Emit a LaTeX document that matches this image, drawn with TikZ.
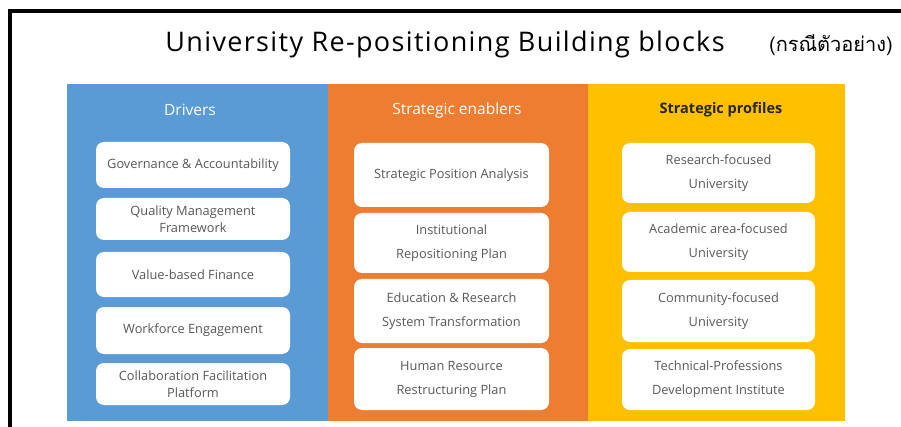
\documentclass[tikz,border=0pt]{standalone}
\usepackage{fontspec}
\setmainfont{Open Sans}
\newfontfamily\titlefont[LetterSpace=5]{Open Sans}
\newfontfamily\thaifont[Script=Thai]{Loma}
\definecolor{drvblue}{HTML}{5B9BD5}
\definecolor{enborange}{HTML}{ED7D31}
\definecolor{proyellow}{HTML}{FFC000}
\definecolor{cardtext}{HTML}{595959}
\begin{document}
\begin{tikzpicture}[x=1pt,y=-1pt,
  card/.style={fill=white,rounded corners=8pt,inner sep=0pt,align=center,
    text=cardtext,font=\fontsize{12.8}{17}\selectfont},
  tallcard/.style={card,font=\fontsize{12.8}{24}\selectfont},
  head/.style={font=\fontsize{15.5}{18}\selectfont}]
\useasboundingbox (0,0) rectangle (901,427);
\fill[white] (0,0) rectangle (901,427);
\draw[line width=4pt] (10,427) -- (10,11) -- (901,11);
% title
\node[font=\titlefont\fontsize{27}{32}\selectfont] (title) at (445,44) {University Re-positioning Building blocks};
\node[font=\thaifont\fontsize{20}{24}\selectfont] (thai) at (831,45) {(กรณีตัวอย่าง)};
% panels
\fill[drvblue] (67,84) rectangle (328,421);
\fill[enborange] (328,84) rectangle (588,421);
\fill[proyellow] (588,84) rectangle (845,421);
\node[head,text=white] (drivers) at (190,110) {Drivers};
\node[head,text=white] (enablers) at (457,110) {Strategic enablers};
\node[head,font=\bfseries\fontsize{14.5}{18}\selectfont,text=black!85] (profiles) at (721,110) {Strategic profiles};
% drivers
\node[card,minimum width=194pt,minimum height=46pt] (gov) at (193,165) {Governance \& Accountability};
\node[card,minimum width=194pt,minimum height=42pt] (qual) at (193,219) {Quality Management\\Framework};
\node[card,minimum width=194pt,minimum height=45pt] (value) at (193,274.5) {Value-based Finance};
\node[card,minimum width=194pt,minimum height=47pt] (work) at (193,330.5) {Workforce Engagement};
\node[card,minimum width=194pt,minimum height=42pt] (collab) at (193,384) {Collaboration Facilitation\\Platform};
% enablers
\node[tallcard,minimum width=195pt,minimum height=64pt] (spa) at (451.5,175) {Strategic Position Analysis};
\node[tallcard,minimum width=195pt,minimum height=60pt] (irp) at (451.5,243) {Institutional\\Repositioning Plan};
\node[tallcard,minimum width=195pt,minimum height=64pt] (ers) at (451.5,311) {Education \& Research\\System Transformation};
\node[tallcard,minimum width=195pt,minimum height=62pt] (hrp) at (451.5,379) {Human Resource\\Restructuring Plan};
% profiles
\node[tallcard,minimum width=193pt,minimum height=60pt] (research) at (718.5,173) {Research-focused\\University};
\node[tallcard,minimum width=193pt,minimum height=60pt] (academic) at (718.5,242) {Academic area-focused\\University};
\node[tallcard,minimum width=193pt,minimum height=62pt] (community) at (718.5,311) {Community-focused\\University};
\node[tallcard,minimum width=193pt,minimum height=61pt] (technical) at (718.5,379.5) {Technical-Professions\\Development Institute};
\end{tikzpicture}
\end{document}
